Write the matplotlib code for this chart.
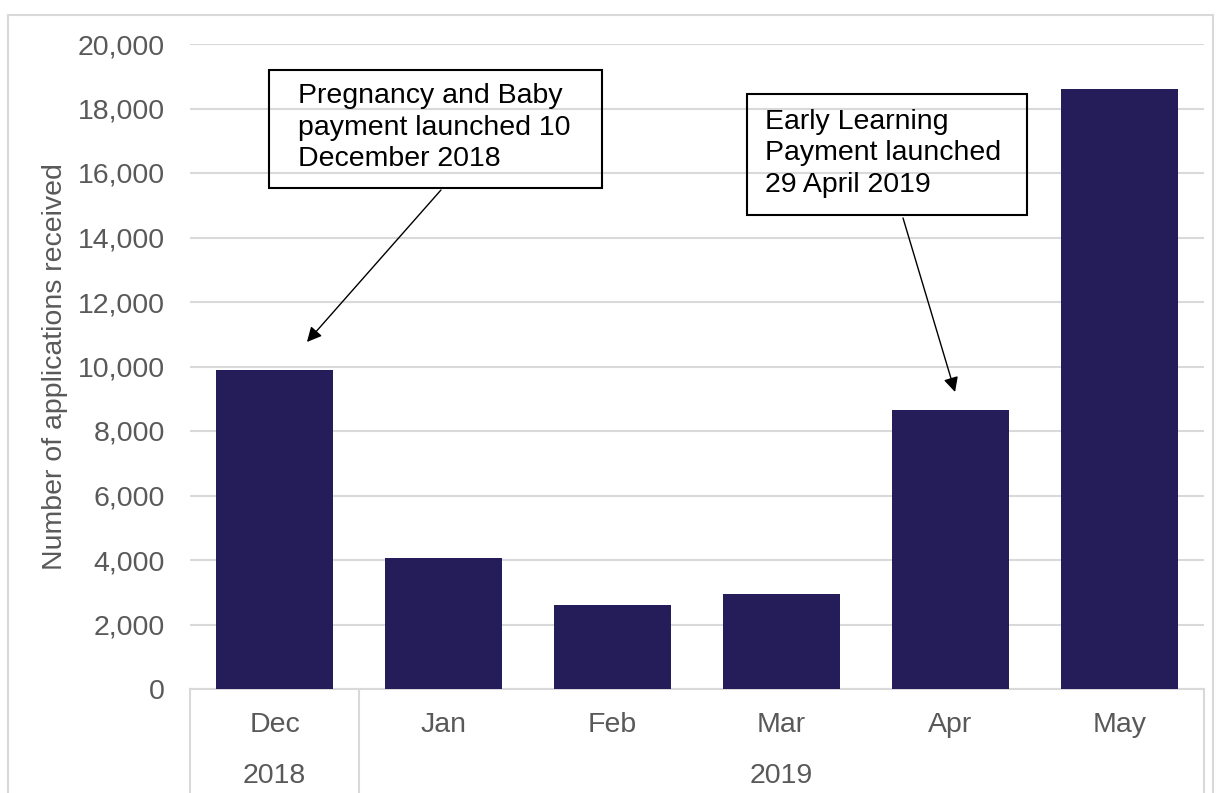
import matplotlib.pyplot as plt
from matplotlib.patches import Rectangle
from matplotlib.lines import Line2D
from matplotlib.ticker import FuncFormatter

months = ['Dec', 'Jan', 'Feb', 'Mar', 'Apr', 'May']
years = ['2018', '2019']
year_spans = [(0, 0), (1, 5)]  # first and last month index for each year
applications = [9900, 4050, 2600, 2950, 8650, 18600]

note_baby = 'Pregnancy and Baby\npayment launched 10\nDecember 2018'
note_early = 'Early Learning\nPayment launched\n29 April 2019'

BAR = '#251c5a'
GREY = '#595959'
GRID = '#d9d9d9'
FS = 20.5

plt.rcParams['font.family'] = ['Liberation Sans', 'DejaVu Sans']

fig = plt.figure(figsize=(12.16, 7.93), dpi=100)
fig.patches.append(Rectangle((8 / 1216, -0.1), 1205 / 1216, 1.1 - 15 / 793,
                             transform=fig.transFigure, fill=False,
                             edgecolor=GRID, lw=1.5))

ax = fig.add_axes([190 / 1216, 104 / 793, 1014 / 1216, 645 / 793])
x = range(len(months))
ax.bar(x, applications, width=0.69, color=BAR, zorder=3)

ax.set_xlim(-0.5, len(months) - 0.5)
ax.set_ylim(0, 20000)
ax.set_yticks(range(0, 20001, 2000))
ax.yaxis.set_major_formatter(FuncFormatter(lambda v, p: f'{int(v):,}'))
ax.grid(axis='y', color=GRID, lw=1.5, zorder=0)
for s in ['top', 'right', 'left']:
    ax.spines[s].set_visible(False)
ax.spines['bottom'].set_color(GRID)
ax.spines['bottom'].set_linewidth(1.5)
ax.tick_params(axis='y', length=0, labelsize=FS, labelcolor=GREY, pad=18)
ax.tick_params(axis='x', length=0, labelsize=FS, labelcolor=GREY, pad=16.5)
ax.set_xticks(list(x))
ax.set_xticklabels(months)
ax.set_ylabel('Number of applications received', fontsize=FS, color=GREY, labelpad=7)

# two-level category axis: year labels and separators
trans = ax.get_xaxis_transform()
depth = -0.165
seps = [-0.5] + [b + 0.5 for a, b in year_spans]
for sx in seps:
    ax.add_line(Line2D([sx, sx], [0, depth], transform=trans, color=GRID,
                       lw=1.5, clip_on=False))
for yr, (a, b) in zip(years, year_spans):
    ax.text((a + b) / 2, -0.135, yr, transform=trans, ha='center', va='center',
            fontsize=FS, color=GREY)

# callouts
def callout(x0, x1, y0, y1, text, tx, ty, start, tip):
    ax.add_patch(Rectangle((x0, y0), x1 - x0, y1 - y0, fill=False,
                           edgecolor='black', lw=1.5, zorder=5))
    ax.text(tx, ty, text, fontsize=FS, color='black', va='top', ha='left',
            linespacing=1.26, zorder=6)
    ax.annotate('', xy=tip, xytext=start,
                arrowprops=dict(arrowstyle='-|>', color='black', lw=1,
                                mutation_scale=22, shrinkA=0, shrinkB=0),
                zorder=6)

callout(-0.0325, 1.938, 15535, 19194, note_baby, 0.139, 18780,
        (0.985, 15473), (0.192, 10760))
callout(2.796, 4.453, 14698, 18450, note_early, 2.902, 17980,
        (3.719, 14605), (4.027, 9209))

fig.savefig('out.png', dpi=100)
